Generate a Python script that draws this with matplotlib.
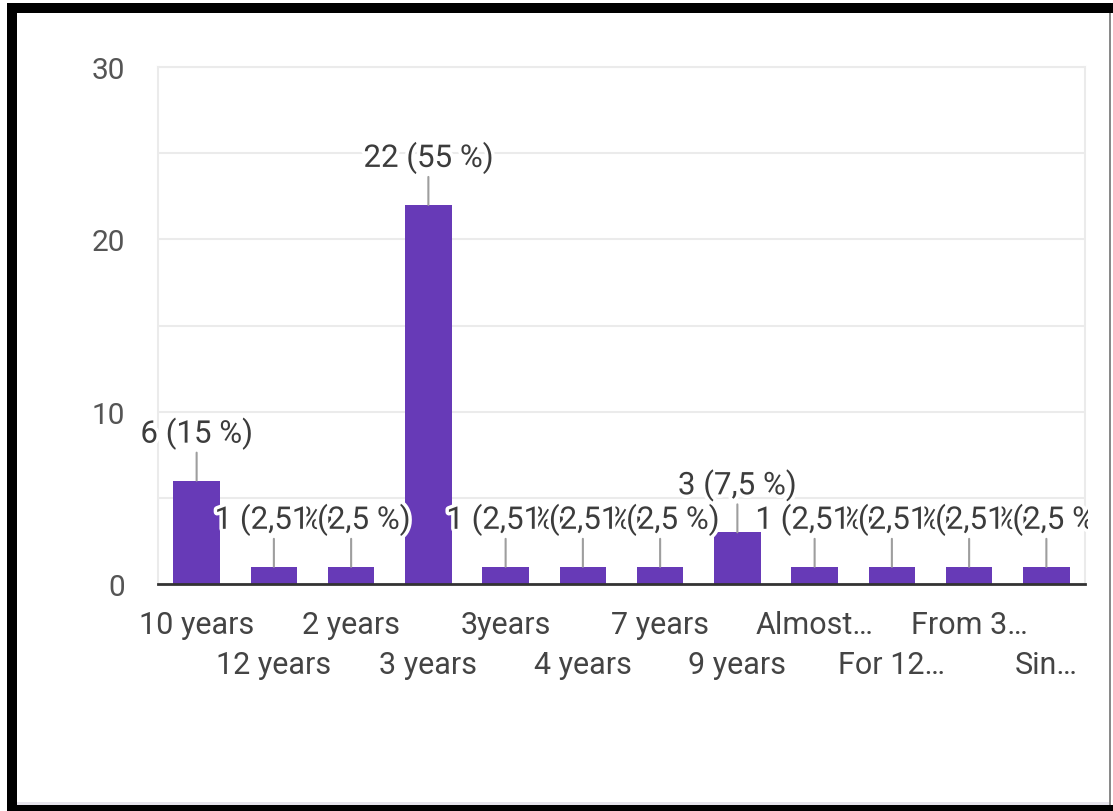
import matplotlib
matplotlib.use('Agg')
import matplotlib.pyplot as plt
from matplotlib.patches import Rectangle
import matplotlib.patheffects as pe
import numpy as np

categories = ["10 years", "12 years", "2 years", "3 years", "3years", "4 years",
              "7 years", "9 years", "Almost…", "For 12…", "From 3…", "Sin…"]
counts = [6, 1, 1, 22, 1, 1, 1, 3, 1, 1, 1, 1]
y_ticks = [0, 10, 20, 30]
y_minor = [5, 15, 25]

plt.rcParams['font.family'] = ['Roboto', 'DejaVu Sans']

W, H = 1113, 812
fig = plt.figure(figsize=(W / 100, H / 100), dpi=100)
fig.patch.set_facecolor('white')


def px_rect(x0, y0, x1, y1, color):
    r = Rectangle((x0 / W, 1 - y1 / H), (x1 - x0) / W, (y1 - y0) / H,
                  transform=fig.transFigure, facecolor=color, edgecolor='none', zorder=10)
    fig.add_artist(r)


ax = fig.add_axes([158 / W, 1 - 585 / H, (1085 - 158) / W, (585 - 68) / H])
x = np.arange(len(categories))
ax.bar(x, counts, width=0.6, color='#673ab7', zorder=2)
ax.set_xlim(-0.5, len(categories) - 0.5)
ax.set_ylim(0, 30)

ax.set_yticks(y_ticks)
ax.set_yticks(y_minor, minor=True)
ax.set_yticklabels([str(v) for v in y_ticks])
ax.tick_params(axis='y', which='both', length=0, pad=24, labelsize=21.5, labelcolor='#555555')
ax.grid(axis='y', which='both', color='#ebebeb', lw=1.5, zorder=0)
ax.set_axisbelow(True)
ax.set_xticks([])
for s in ['left', 'top', 'right']:
    ax.spines[s].set_color('#ebebeb')
    ax.spines[s].set_linewidth(1.5)
ax.spines['bottom'].set_color('#333333')
ax.spines['bottom'].set_linewidth(2)

# staggered category labels
for i, cat in enumerate(categories):
    off = -40 if i % 2 == 0 else -80
    ax.annotate(cat, xy=(i, 0), xycoords=('data', 'axes fraction'),
                xytext=(0, off * 0.72), textcoords='offset points',
                ha='center', va='center', fontsize=22, color='#444444',
                annotation_clip=False)

# value labels (white halo, drawn left to right so later ones cover earlier ones)
total = sum(counts)
clip_rect = Rectangle((0, 0), 1088 / W, 1, transform=fig.transFigure)
for i, c in enumerate(counts):
    pct = c / total * 100
    pct_s = (f"{pct:.1f}".rstrip('0').rstrip('.')).replace('.', ',')
    lab = f"{c} ({pct_s} %)"
    t = ax.annotate(lab, xy=(i, c), xytext=(0, 47 * 0.72), textcoords='offset points',
                    ha='center', va='center', fontsize=22.5, color='#3c3c3c',
                    arrowprops=dict(arrowstyle='-', color='#9e9e9e', lw=1.5,
                                    shrinkA=0, shrinkB=0),
                    zorder=3 + i * 0.01, annotation_clip=False,
                    path_effects=[pe.withStroke(linewidth=5, foreground='white')])
    t.set_clip_path(clip_rect)

# frame
px_rect(7, 4, 1113, 14, 'black')
px_rect(7, 4, 17, 812, 'black')
px_rect(17, 803, 1110, 806, '#e6e4ec')
px_rect(7, 806, 1113, 812, 'black')
px_rect(1109, 14, 1111, 806, '#8a8a8a')

fig.savefig('out.png', dpi=100)
